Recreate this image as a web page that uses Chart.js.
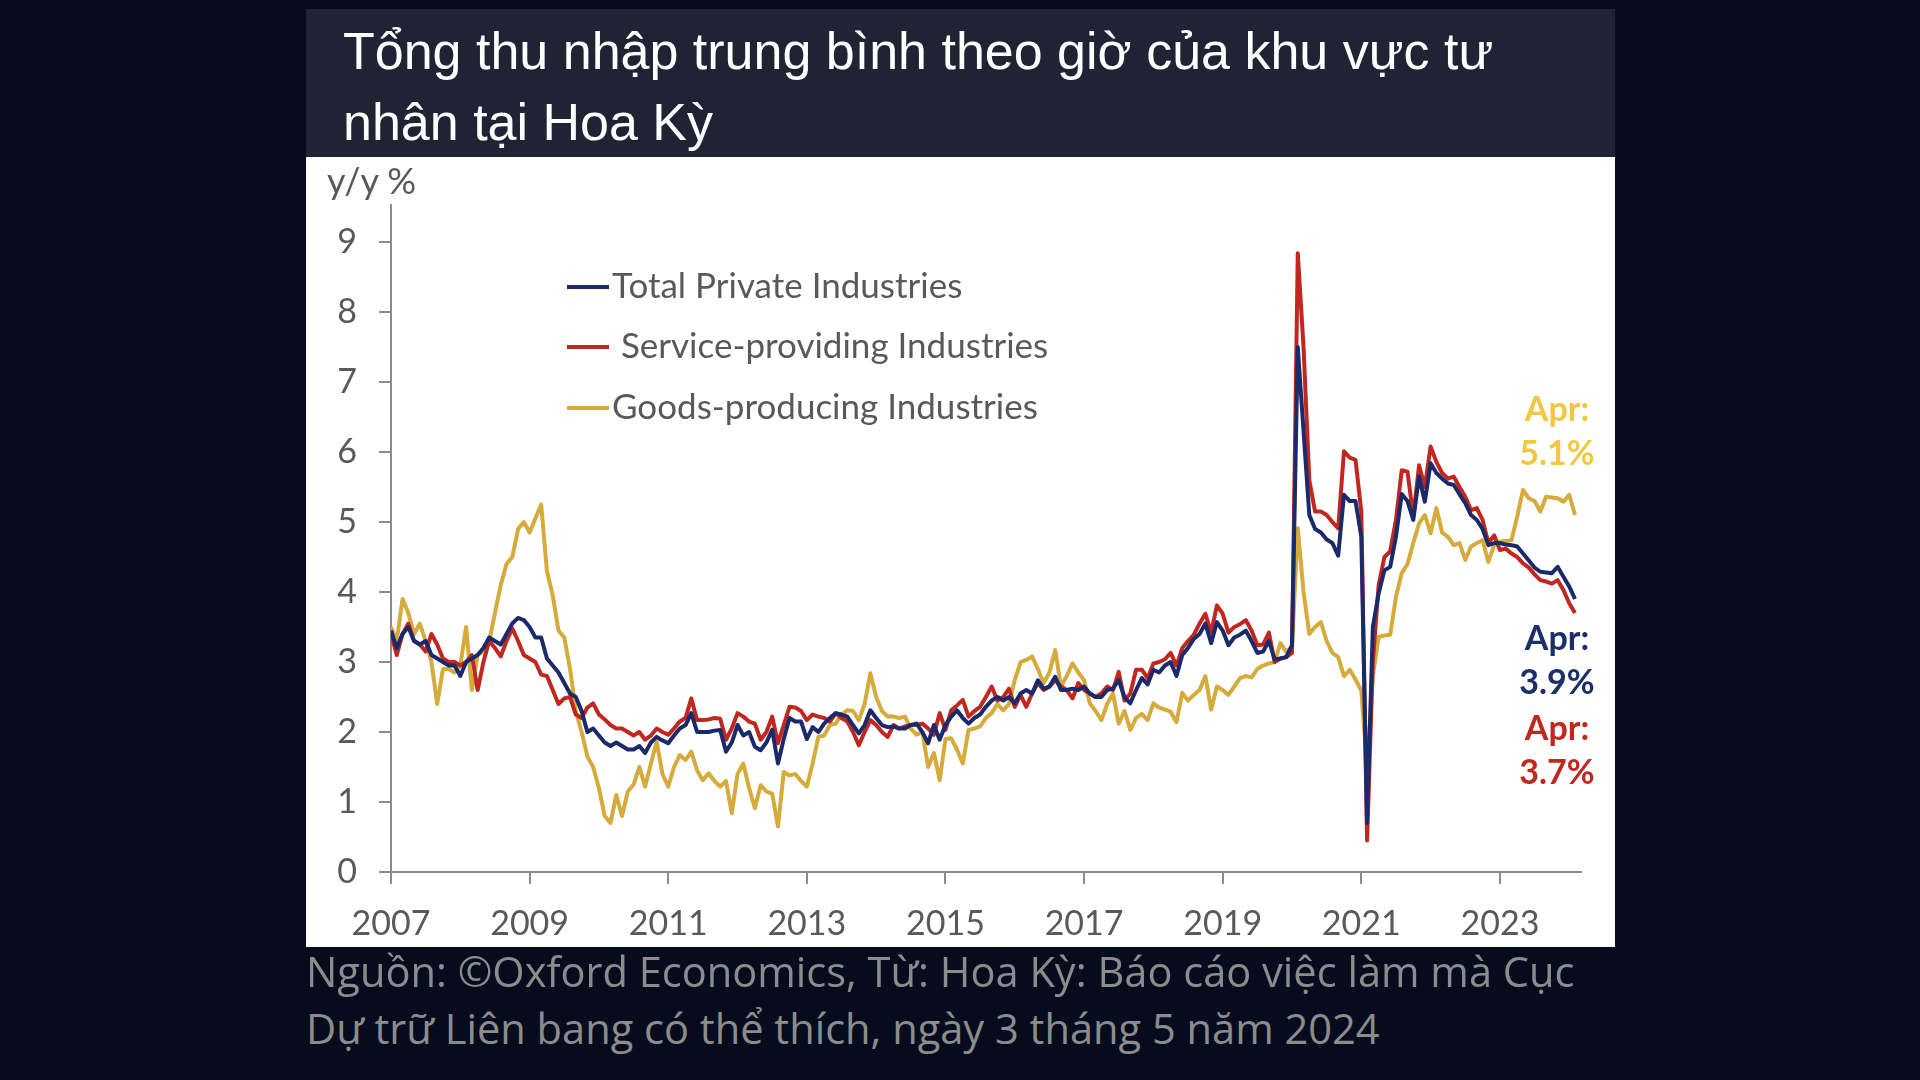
<!DOCTYPE html>
<html>
<head>
<meta charset="utf-8">
<script src="https://cdn.jsdelivr.net/npm/chart.js@4.4.1/dist/chart.umd.min.js"></script>
<style>
  body { margin: 0; width: 1920px; height: 1080px; background: #060c1e; position: relative; overflow: hidden; font-family: Lato, sans-serif; }
  #head { position: absolute; left: 306px; top: 9px; width: 1309px; height: 148px; background: #1f2333; }
  .t { position: absolute; left: 37px; color: #fff; font-family: "Liberation Sans", Arial, sans-serif; font-size: 52px; line-height: 60px; white-space: nowrap; }
  #panel { position: absolute; left: 306px; top: 157px; width: 1309px; height: 790px; background: #fff; }
  #wrap { position: absolute; left: 0; top: 0; width: 1309px; height: 790px; }
  .unit { position: absolute; left: 21px; top: 3px; font-size: 36px; line-height: 40px; color: #595959; }
  .leg { position: absolute; left: 261px; height: 40px; font-size: 35px; line-height: 40px; color: #595959; white-space: nowrap; }
  .leg i { display: inline-block; width: 42px; height: 4px; vertical-align: middle; margin-right: 3px; position: relative; top: -2px; }
  .ann { position: absolute; width: 120px; left: 1191px; text-align: center; font-weight: bold; font-size: 34px; line-height: 44px; }
  .src { position: absolute; left: 306px; color: #8c8c8c; font-family: "Open Sans", sans-serif; font-size: 41.6px; line-height: 56px; white-space: nowrap; }
</style>
</head>
<body>
<div id="head">
  <div class="t" style="top:12px">Tổng thu nhập trung bình theo giờ của khu vực tư</div>
  <div class="t" style="top:83px">nhân tại Hoa Kỳ</div>
</div>
<div id="panel">
  <div id="wrap"><canvas id="canvas"></canvas></div>
  <div class="unit">y/y %</div>
  <div class="leg" style="top:107px"><i style="background:#1b2a6b"></i>Total Private Industries</div>
  <div class="leg" style="top:167px"><i style="background:#c1271f"></i> Service-providing Industries</div>
  <div class="leg" style="top:228px"><i style="background:#d6ab3c"></i>Goods-producing Industries</div>
  <div class="ann" style="top:229px;color:#f4c642">Apr:<br>5.1%</div>
  <div class="ann" style="top:458px;color:#1b2f68">Apr:<br>3.9%</div>
  <div class="ann" style="top:548px;color:#c1271f">Apr:<br>3.7%</div>
</div>
<div class="src" style="top:943px">Nguồn: ©Oxford Economics, Từ: Hoa Kỳ: Báo cáo việc làm mà Cục</div>
<div class="src" style="top:1000px">Dự trữ Liên bang có thể thích, ngày 3 tháng 5 năm 2024</div>

<script>
// mois consécutifs, le premier point est posé sur le repère 2007
const startYear = 2007;
const yearTicks = [2007, 2009, 2011, 2013, 2015, 2017, 2019, 2021, 2023];
const valueTicks = [0, 1, 2, 3, 4, 5, 6, 7, 8, 9];

const totalPrivate = [
  3.45, 3.2, 3.4, 3.5, 3.3, 3.25, 3.3, 3.1, 3.05, 3.0, 2.95, 2.95,
  2.8, 3.0, 3.05, 3.1, 3.2, 3.35, 3.3, 3.25, 3.4, 3.55, 3.63, 3.6,
  3.5, 3.35, 3.35, 3.05, 2.95, 2.85, 2.7, 2.55, 2.5, 2.3, 2.0, 2.05,
  1.95, 1.85, 1.8, 1.85, 1.8, 1.75, 1.75, 1.8, 1.7, 1.85, 1.93, 1.88,
  1.84, 1.95, 2.05, 2.1, 2.27, 2.0, 2.0, 2.0, 2.02, 2.03, 1.72, 1.85,
  2.1, 1.95, 2.0, 1.79, 1.74, 1.85, 2.03, 1.55, 1.9, 2.2, 2.15, 2.15,
  1.9, 2.07, 2.0, 2.12, 2.2, 2.27, 2.25, 2.22, 2.1, 1.98, 2.1, 2.31,
  2.2, 2.1, 2.07, 2.08, 2.05, 2.05, 2.1, 2.12, 2.0, 1.84, 2.1, 1.89,
  2.1, 2.22, 2.31, 2.2, 2.12, 2.2, 2.25, 2.36, 2.45, 2.5, 2.45, 2.5,
  2.41, 2.55, 2.6, 2.55, 2.74, 2.62, 2.65, 2.79, 2.6, 2.6, 2.62, 2.6,
  2.65, 2.55, 2.5, 2.5, 2.6, 2.62, 2.74, 2.5, 2.41, 2.6, 2.77, 2.68,
  2.89, 2.85, 2.95, 3.0, 2.8, 3.1, 3.2, 3.33, 3.4, 3.55, 3.27, 3.57,
  3.45, 3.24, 3.35, 3.39, 3.45, 3.3, 3.13, 3.15, 3.3, 3.04, 3.05, 3.07,
  3.24, 7.5, 6.3, 5.1, 4.9, 4.85, 4.75, 4.7, 4.52, 5.39, 5.3, 5.3,
  4.79, 0.7, 3.5, 3.98, 4.31, 4.36, 4.79, 5.4, 5.3, 5.03, 5.65, 5.29,
  5.84, 5.7, 5.62, 5.55, 5.53, 5.4, 5.27, 5.1, 5.03, 4.9, 4.67, 4.7,
  4.7, 4.68, 4.67, 4.65, 4.55, 4.45, 4.35, 4.29, 4.28, 4.27, 4.36, 4.22,
  4.08, 3.9
];

const serviceProviding = [
  3.4, 3.1, 3.4, 3.55, 3.3, 3.25, 3.15, 3.4, 3.25, 3.05, 3.0, 3.0,
  2.95, 3.0, 3.1, 2.6, 3.0, 3.3, 3.2, 3.08, 3.3, 3.48, 3.3, 3.1,
  3.05, 3.0, 2.82, 2.8, 2.6, 2.4, 2.48, 2.5, 2.25, 2.2, 2.35, 2.41,
  2.25, 2.18, 2.1, 2.05, 2.05, 2.0, 1.95, 2.0, 1.89, 1.95, 2.05, 2.0,
  1.96, 2.05, 2.15, 2.2, 2.48, 2.17, 2.17, 2.18, 2.2, 2.19, 1.89, 2.05,
  2.27, 2.22, 2.15, 2.12, 1.89, 2.0, 2.22, 1.84, 2.1, 2.36, 2.35, 2.3,
  2.17, 2.25, 2.22, 2.2, 2.15, 2.27, 2.2, 2.15, 2.0, 1.81, 2.0, 2.17,
  2.1, 2.0, 1.93, 2.1, 2.05, 2.08, 2.1, 2.1, 2.12, 2.05, 1.96, 2.27,
  2.03, 2.31, 2.38, 2.46, 2.22, 2.3, 2.36, 2.5, 2.65, 2.45, 2.5, 2.62,
  2.36, 2.53, 2.36, 2.55, 2.7, 2.6, 2.65, 2.74, 2.65, 2.6, 2.48, 2.7,
  2.6, 2.55, 2.5, 2.55, 2.65, 2.6, 2.86, 2.45, 2.55, 2.89, 2.89, 2.77,
  2.98, 3.0, 3.04, 3.13, 2.95, 3.2, 3.3, 3.39, 3.55, 3.69, 3.42, 3.81,
  3.69, 3.42, 3.5, 3.54, 3.6, 3.45, 3.24, 3.25, 3.42, 3.0, 3.05, 3.07,
  3.13, 8.84, 7.5, 5.6, 5.15, 5.15, 5.1, 5.0, 4.91, 6.01, 5.92, 5.89,
  5.15, 0.45, 3.0, 4.1, 4.5, 4.58, 5.03, 5.74, 5.72, 5.08, 5.81, 5.5,
  6.08, 5.86, 5.7, 5.62, 5.65, 5.5, 5.36, 5.17, 5.2, 5.03, 4.7, 4.81,
  4.6, 4.62, 4.55, 4.5, 4.41, 4.35, 4.25, 4.17, 4.15, 4.12, 4.17, 4.03,
  3.84, 3.7
];

const goodsProducing = [
  3.5, 3.3, 3.9, 3.7, 3.4, 3.55, 3.3, 3.0, 2.4, 2.9, 2.9, 2.85,
  2.95, 3.5, 2.6, 3.1, 3.15, 3.3, 3.7, 4.1, 4.4, 4.5, 4.9, 5.0,
  4.85, 5.05, 5.25, 4.3, 3.95, 3.45, 3.35, 2.9, 2.3, 2.0, 1.65, 1.5,
  1.2, 0.8, 0.7, 1.1, 0.8, 1.15, 1.25, 1.5, 1.22, 1.55, 1.86, 1.4,
  1.22, 1.5, 1.67, 1.6, 1.72, 1.45, 1.31, 1.41, 1.3, 1.22, 1.3, 0.84,
  1.4, 1.55, 1.2, 0.91, 1.24, 1.15, 1.12, 0.65, 1.43, 1.38, 1.4, 1.3,
  1.22, 1.55, 1.93, 1.95, 2.1, 2.12, 2.25, 2.31, 2.3, 2.17, 2.4, 2.84,
  2.5, 2.3, 2.22, 2.22, 2.2, 2.22, 2.05, 1.96, 2.0, 1.5, 1.7, 1.31,
  1.9, 1.91, 1.75, 1.55, 2.03, 2.05, 2.08, 2.2, 2.27, 2.4, 2.31, 2.4,
  2.74, 3.0, 3.03, 3.08, 2.9, 2.7, 2.85, 3.17, 2.65, 2.8, 2.98, 2.85,
  2.74, 2.41, 2.3, 2.17, 2.4, 2.55, 2.12, 2.3, 2.03, 2.2, 2.26, 2.17,
  2.41, 2.35, 2.32, 2.29, 2.14, 2.56, 2.45, 2.53, 2.6, 2.8, 2.32, 2.65,
  2.6, 2.53, 2.65, 2.77, 2.8, 2.78, 2.9, 2.95, 2.98, 3.0, 3.27, 3.15,
  3.21, 4.91, 4.0, 3.4, 3.5, 3.57, 3.3, 3.13, 3.07, 2.8, 2.89, 2.75,
  2.59, 1.5, 2.8, 3.36, 3.38, 3.39, 3.93, 4.27, 4.4, 4.7, 4.98, 5.1,
  4.84, 5.2, 4.85, 4.79, 4.67, 4.7, 4.46, 4.65, 4.7, 4.74, 4.43, 4.67,
  4.72, 4.73, 4.74, 5.08, 5.46, 5.34, 5.3, 5.15, 5.36, 5.35, 5.34, 5.29,
  5.39, 5.1
];

// une valeur par mois -> paires {x, y}
function toPoints(values) {
  return values.map((v, i) => ({ x: startYear + i / 12, y: v }));
}

const tickFont = { family: "Lato", size: 34 };
const axisColor = "#8c8c8c";

const ctx = document.getElementById("canvas").getContext("2d");
new Chart(ctx, {
  type: "line",
  data: {
    datasets: [
      { label: "Total Private Industries", data: toPoints(totalPrivate), borderColor: "#1b2a6b" },
      { label: "Service-providing Industries", data: toPoints(serviceProviding), borderColor: "#c1271f" },
      { label: "Goods-producing Industries", data: toPoints(goodsProducing), borderColor: "#d6ab3c" },
    ],
  },
  options: {
    responsive: true,
    maintainAspectRatio: false,
    animation: false,
    layout: { padding: { top: 48, right: 34, left: 0, bottom: 0 } },
    elements: {
      line: { borderWidth: 4, tension: 0, borderJoinStyle: "round" },
      point: { radius: 0 },
    },
    plugins: { legend: { display: false }, tooltip: { enabled: false } },
    scales: {
      x: {
        type: "linear",
        min: 2007,
        max: 2024.17,
        afterBuildTicks: (s) => { s.ticks = yearTicks.map((v) => ({ value: v })); },
        afterFit: (s) => { s.height = 75; },
        ticks: { font: tickFont, color: "#595959", padding: 20, maxRotation: 0, autoSkip: false, callback: (v) => String(v) },
        grid: { drawOnChartArea: false, drawTicks: true, tickLength: 12, color: axisColor, lineWidth: 2 },
        border: { color: axisColor, width: 2 },
      },
      y: {
        min: 0,
        max: 9.53,
        afterBuildTicks: (s) => { s.ticks = valueTicks.map((v) => ({ value: v })); },
        afterFit: (s) => { s.width = 85; },
        ticks: { font: tickFont, color: "#595959", padding: 22, callback: (v) => String(v) },
        grid: { drawOnChartArea: false, drawTicks: true, tickLength: 12, color: axisColor, lineWidth: 2 },
        border: { color: axisColor, width: 2 },
      },
    },
  },
});
</script>
</body>
</html>
